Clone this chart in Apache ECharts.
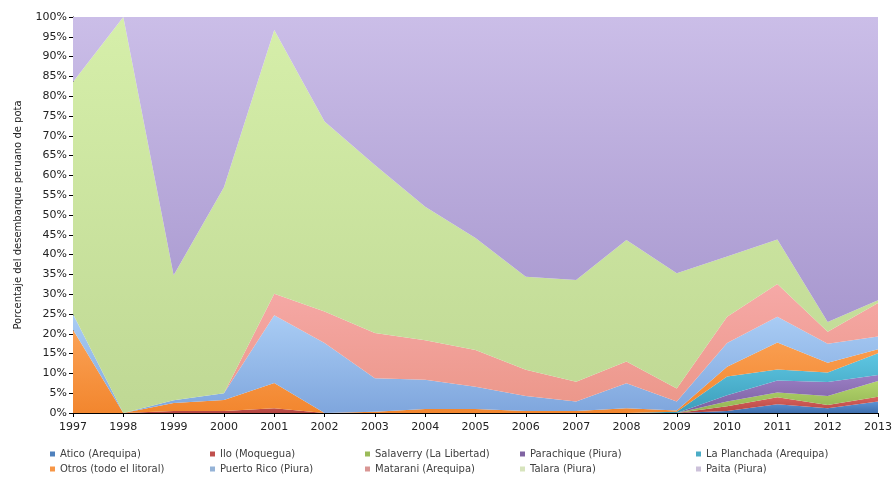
<!DOCTYPE html>
<html>
<head>
<meta charset="utf-8">
<script src="https://cdn.jsdelivr.net/npm/echarts@6/dist/echarts.min.js"></script>
<style>
  html, body { margin: 0; padding: 0; background: #fff; }
  #chart { width: 895px; height: 481px; }
</style>
</head>
<body>
<div id="chart"></div>
<script>
// Share of Peruvian jumbo squid landings by port, 1997-2013 (percent of yearly total)
const years = ['1997','1998','1999','2000','2001','2002','2003','2004','2005','2006','2007','2008','2009','2010','2011','2012','2013'];

const atico       = [0, 0, 0, 0, 0, 0, 0, 0, 0, 0, 0, 0, 0, 0.5, 2.2, 1.2, 2.9];
const ilo         = [0, 0, 0.5, 0.5, 1.2, 0, 0, 0, 0, 0, 0, 0, 0, 1.2, 1.8, 0.8, 1.2];
const salaverry   = [0, 0, 0, 0, 0, 0, 0, 0, 0, 0, 0, 0, 0, 1.2, 1.2, 2.3, 4.0];
const parachique  = [0, 0, 0, 0, 0, 0, 0, 0, 0, 0, 0, 0, 0, 1.6, 3.0, 3.5, 1.5];
const laPlanchada = [0, 0, 0, 0, 0, 0, 0, 0, 0, 0, 0, 0, 0.3, 4.7, 2.8, 2.4, 5.5];
const otros       = [21, 0, 2, 2.8, 6.4, 0, 0.3, 1.0, 1.0, 0.5, 0.5, 1.2, 0.3, 2.5, 6.8, 2.5, 1.0];
const puertoRico  = [4, 0, 0.7, 1.7, 17.1, 17.7, 8.5, 7.4, 5.6, 3.8, 2.4, 6.3, 2.3, 6.0, 6.5, 4.8, 3.2];
const matarani    = [0, 0, 0, 0, 5.4, 7.9, 11.4, 10.0, 9.3, 6.6, 5.0, 5.5, 3.3, 6.6, 8.3, 3.0, 8.5];
const talara      = [58.6, 100, 31.6, 52, 66.6, 48, 42.4, 33.7, 28.3, 23.5, 25.7, 30.7, 29.1, 15.2, 11.2, 2.5, 0.7];
const paita       = [16.4, 0, 65.2, 43, 3.3, 26.4, 37.4, 47.9, 55.8, 65.6, 66.4, 56.3, 64.7, 60.5, 56.2, 77, 71.5];

const yTicks = { min: 0, max: 100, step: 5 };

// stacking order, bottom to top
const ports = [
  { name: 'Atico (Arequipa)',        data: atico,       c: '#4F81BD', top: '#5E93D4', bot: '#3F6FAE' },
  { name: 'Ilo (Moquegua)',          data: ilo,         c: '#C0504D', top: '#D8625E', bot: '#B44541' },
  { name: 'Salaverry (La Libertad)', data: salaverry,   c: '#9BBB59', top: '#B2D46C', bot: '#92B352' },
  { name: 'Parachique (Piura)',      data: parachique,  c: '#8064A2', top: '#9A7EC4', bot: '#7A5E9E' },
  { name: 'La Planchada (Arequipa)', data: laPlanchada, c: '#4BACC6', top: '#5EC6E2', bot: '#3C9DBA' },
  { name: 'Otros (todo el litoral)', data: otros,       c: '#F79646', top: '#FBA256', bot: '#F2862E' },
  { name: 'Puerto Rico (Piura)',     data: puertoRico,  c: '#95B3D7', top: '#AACDF5', bot: '#7FA6DD' },
  { name: 'Matarani (Arequipa)',     data: matarani,    c: '#D99694', top: '#F6A9A7', bot: '#EB9688' },
  { name: 'Talara (Piura)',          data: talara,      c: '#D7E4BD', top: '#D6EFAA', bot: '#BFD894' },
  { name: 'Paita (Piura)',           data: paita,       c: '#CCC1DA', top: '#CBBEE8', bot: '#A898CF' }
];

const FONT = 'DejaVu Sans';

const chart = echarts.init(document.getElementById('chart'), null, { renderer: 'canvas' });

const series = ports.map(p => ({
  name: p.name,
  type: 'line',
  stack: 'total',
  data: p.data,
  symbol: 'none',
  color: p.c,
  lineStyle: { width: 0 },
  areaStyle: {
    opacity: 1,
    color: new echarts.graphic.LinearGradient(0, 0, 0, 1, [
      { offset: 0, color: p.top },
      { offset: 1, color: p.bot }
    ])
  },
  emphasis: { disabled: true },
  animation: false
}));

// legend: five columns, two rows, one legend box per entry
const colX = [48, 208, 363, 518, 694];
const rowY = [447, 462];
const legends = ports.map((p, i) => ({
  left: colX[i % 5],
  top: rowY[Math.floor(i / 5)],
  orient: 'horizontal',
  itemWidth: 5,
  itemHeight: 5,
  itemGap: 4,
  icon: 'rect',
  padding: 2,
  data: [p.name],
  textStyle: { fontFamily: FONT, fontSize: 10, color: '#404040', padding: [0, 0, 0, 0] },
  selectedMode: false
}));

chart.setOption({
  backgroundColor: '#ffffff',
  animation: false,
  grid: { left: 73, right: 14, top: 17, bottom: 68 },
  legend: legends,
  xAxis: {
    type: 'category',
    boundaryGap: false,
    data: years,
    axisLine: { lineStyle: { color: '#000', width: 1 } },
    axisTick: { alignWithLabel: true, length: 4, lineStyle: { color: '#000' } },
    axisLabel: { fontFamily: FONT, fontSize: 11, color: '#222', margin: 9 },
    splitLine: { show: false }
  },
  yAxis: {
    type: 'value',
    min: yTicks.min,
    max: yTicks.max,
    interval: yTicks.step,
    name: 'Porcentaje del desembarque peruano de pota',
    nameLocation: 'middle',
    nameGap: 50,
    nameTextStyle: { fontFamily: FONT, fontSize: 10, color: '#222' },
    axisLine: { show: true, lineStyle: { color: '#000', width: 1 } },
    axisTick: { show: true, length: 4, lineStyle: { color: '#000' } },
    axisLabel: { fontFamily: FONT, fontSize: 11, color: '#222', margin: 6, formatter: '{value}%' },
    splitLine: { show: false }
  },
  series: series
});
</script>
</body>
</html>
